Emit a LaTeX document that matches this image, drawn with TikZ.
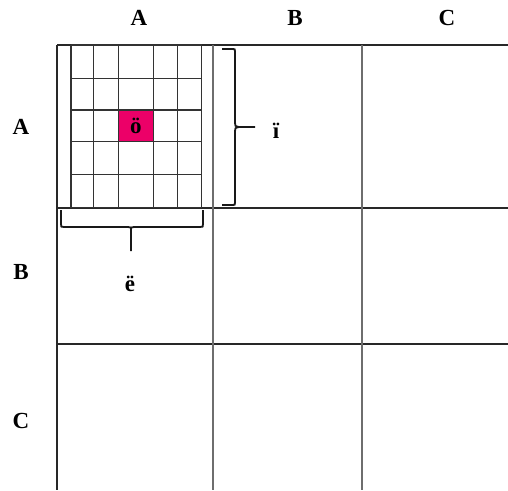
\documentclass[tikz,border=0pt]{standalone}
\usepackage{fontspec}
\setmainfont{Liberation Serif}
\usetikzlibrary{positioning}
\definecolor{HotPink}{RGB}{236,0,104}
\definecolor{RuleDark}{RGB}{40,40,40}
\definecolor{RuleGray}{RGB}{110,110,110}
\tikzset{
  outer/.style={draw=RuleDark,line width=1.6pt},
  column/.style={draw=RuleGray,line width=1.6pt},
  fine/.style={draw=black!80,line width=1.4pt},
  bracket/.style={draw=black!90,line width=1.8pt},
  label/.style={font=\fontsize{23}{27}\selectfont\bfseries,inner sep=0pt},
  hotcell/.style={fill=HotPink,draw=black!80,line width=1.4pt,
    minimum width=35pt,minimum height=31.7pt,inner sep=0pt,
    font=\fontsize{23}{27}\selectfont\bfseries}
}

\begin{document}
\begin{tikzpicture}[x=1pt,y=-1pt]
\useasboundingbox (0,0) rectangle (508,490);

% Main table
\draw[outer] (57,45) -- (57,490);
\foreach \y in {45,208,344}{
  \draw[outer] (57,\y) -- (508,\y);
}
\foreach \x in {213,362}{
  \draw[column] (\x,45) -- (\x,490);
}

% Headers
\node[label] (colA) at (139,18) {A};
\node[label] (colB) at (295,18) {B};
\node[label] (colC) at (447,18) {C};
\node[label] (rowA) at (21,127) {A};
\node[label] (rowB) at (21,272) {B};
\node[label] (rowC) at (21,421) {C};

% Fine grid in cell AA
\foreach \x in {71,93.3,118.3,153.3,177.7,201.7}{
  \draw[fine] (\x,45) -- (\x,207.5);
}
\foreach \y in {45,78.3,110,141.7,174.3,207.5}{
  \draw[fine] (71,\y) -- (201.7,\y);
}
\node[hotcell] (hot) at (135.8,125.85) {ö};

% Braces
\draw[bracket] (222,49) -- (233,49) .. controls (235,49) .. (235,52)
  -- (235,123) .. controls (235,126) .. (239,127) -- (255,127);
\draw[bracket] (239,127) .. controls (235,128) .. (235,131)
  -- (235,202) .. controls (235,205) .. (233,205) -- (222,205);
\draw[bracket] (61,210) -- (61,224) .. controls (61,227) .. (64,227)
  -- (128,227) .. controls (131,227) .. (131,231) -- (131,251);
\draw[bracket] (131,231) .. controls (131,227) .. (134,227)
  -- (200,227) .. controls (203,227) .. (203,224) -- (203,210);

\node[label] (rows) at (276,131) {ï};
\node[label] (cols) at (130,284) {ë};

\end{tikzpicture}
\end{document}
